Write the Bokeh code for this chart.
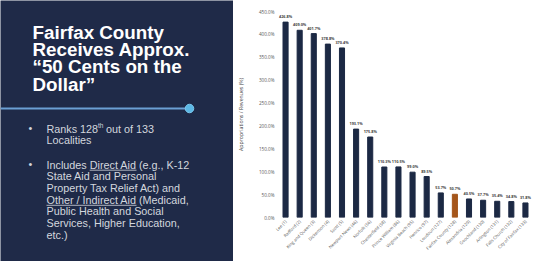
from math import pi
from bokeh.plotting import figure
from bokeh.layouts import row
from bokeh.models import (Range1d, FactorRange, FixedTicker, PrintfTickFormatter,
                          ColumnDataSource, Label, Plot)
from bokeh.core.properties import value
from bokeh.embed import file_html
from bokeh.resources import INLINE

# ---------------- data ----------------
localities = ["Lee (1)", "Radford (2)", "King and Queen (3)", "Dickenson (4)", "Scott (5)",
              "Newport News (46)", "Norfolk (56)", "Chesterfield (58)", "Prince William (86)",
              "Virginia Beach (95)", "Henrico (97)", "Loudoun (127)", "Fairfax County (128)",
              "Alexandria (129)", "Goochland (130)", "Arlington (131)", "Falls Church (132)",
              "City of Fairfax (133)"]
ratios = [426.8, 409.0, 401.7, 378.8, 370.4, 193.1, 175.8, 110.3, 110.5, 99.0, 89.5,
          53.7, 50.7, 40.5, 37.7, 35.4, 34.8, 31.8]
highlight = "Fairfax County (128)"
y_ticks = [0, 50, 100, 150, 200, 250, 300, 350, 400, 450]

title_lines = ["Fairfax County", "Receives Approx.", "\u201c50 Cents on the", "Dollar\u201d"]
bullet2_lines = ["Includes Direct Aid (e.g., K-12", "State Aid and Personal",
                 "Property Tax Relief Act) and", "Other / Indirect Aid (Medicaid,",
                 "Public Health and Social", "Services, Higher Education,", "etc.)"]

NAVY = "#1f2a48"
BAR = "#1c2944"
ORANGE = "#a5561b"
TXT = "#d3d7de"

H = 261
W_L = 233
TOP, BOTTOM = 11, 44
FRAME_BOTTOM = H - BOTTOM
HAS_FA = "frame_align" in Plot.properties()

# ---------------- left panel (data units = pixels) ----------------
if HAS_FA:
    ly = Range1d(H, 0)
    lb_top, lb_bot = 0, 0
else:
    ly = Range1d(FRAME_BOTTOM, TOP)
    lb_top, lb_bot = TOP, BOTTOM

left = figure(width=W_L, height=H, output_backend="svg", toolbar_location=None,
              x_range=Range1d(0, W_L), y_range=ly,
              x_axis_location=None, y_axis_location=None, title=None,
              min_border_left=0, min_border_right=0,
              min_border_top=lb_top, min_border_bottom=lb_bot,
              background_fill_color=NAVY, border_fill_color=NAVY)
left.grid.visible = False
left.outline_line_color = None

TF = value("Liberation Sans")
left.text(x=[32] * 4, y=[32 + 17.2 * i for i in range(4)], text=title_lines,
          text_font=TF, text_font_style="bold", text_font_size="18.8px",
          text_color="white", text_baseline="alphabetic")

left.segment(x0=[0], y0=[108], x1=[189], y1=[108], line_color="#6b9fd4", line_width=2)
left.scatter(x=[189], y=[108], size=8.5, fill_color="#5cb8e6", line_color="#7cc8ee")

FS = "10.8px"
kw = dict(text_font=TF, text_color=TXT, text_baseline="alphabetic")
left.text(x=[28, 28], y=[127.5, 163.5], text=["\u2022", "\u2022"], text_font_size=FS, **kw)
left.text(x=[46], y=[128], text=["Ranks 128"], text_font_size=FS, **kw)
left.text(x=[97.4], y=[125], text=["th"], text_font_size="6.5px", **kw)
left.text(x=[105.5], y=[128], text=["out of 133"], text_font_size=FS, **kw)
left.text(x=[46], y=[139.7], text=["Localities"], text_font_size=FS, **kw)
left.text(x=[46] * len(bullet2_lines), y=[164 + 11.7 * i for i in range(len(bullet2_lines))],
          text=bullet2_lines, text_font_size=FS, **kw)
# underlines for "Direct Aid" and "Other / Indirect Aid"
left.segment(x0=[89.2, 46], y0=[169.7, 204.8], x1=[136, 136], y1=[169.7, 204.8],
             line_color=TXT, line_width=0.8)

# ---------------- right panel: bar chart ----------------
colors = [ORANGE if n == highlight else BAR for n in localities]
labels = ["%.1f%%" % v for v in ratios]
src = ColumnDataSource(dict(x=localities, top=ratios, color=colors, label=labels))

right = figure(width=534 - W_L, height=H, output_backend="svg", toolbar_location=None,
               x_range=FactorRange(*localities, range_padding=0), y_range=Range1d(0, 450),
               title=None,
               min_border_left=45, min_border_right=2, min_border_top=TOP,
               min_border_bottom=BOTTOM,
               background_fill_color="white", border_fill_color="white")
right.outline_line_color = None
right.grid.visible = False

if HAS_FA:
    left.frame_align = False
    right.frame_align = False

right.vbar(x="x", top="top", width=0.36, color="color", source=src)
right.text(x="x", y="top", text="label", source=src, text_align="center",
           text_baseline="bottom", y_offset=-3, text_font=value("Open Sans"),
           text_font_style="bold", text_font_size="3.8px", text_color="#404040")

right.yaxis.ticker = FixedTicker(ticks=y_ticks)
right.yaxis.formatter = PrintfTickFormatter(format="%.1f%%")
right.yaxis.axis_label = "Appropriations / Revenues (%)"
for ax in (right.xaxis, right.yaxis):
    ax.axis_line_color = None
    ax.major_tick_line_color = None
    ax.minor_tick_line_color = None
    ax.major_tick_out = 0
    ax.major_tick_in = 0
    ax.minor_tick_out = 0
    ax.major_label_text_font = "Open Sans"
    ax.major_label_text_color = "#595959"
    ax.axis_label_text_font = "Open Sans"
    ax.axis_label_text_font_style = "normal"
    ax.axis_label_text_color = "#404040"
right.yaxis.major_label_text_font_size = "4.6px"
right.yaxis.major_label_standoff = 4
right.yaxis.axis_label_text_font_size = "5.2px"
right.yaxis.axis_label_standoff = 11
right.xaxis.major_label_text_font_size = "4.3px"
right.xaxis.major_label_orientation = pi / 4
right.xaxis.major_label_standoff = 3

# x-axis title placed below the rotated labels
right.add_layout(Label(x=len(localities) / 2, y=-84, text="Locality (and Rank)",
                       text_align="center", text_baseline="middle",
                       text_font="Open Sans", text_font_size="5.6px",
                       text_color="#404040"))

layout = row(left, right, spacing=0)
open("out.html", "w").write(file_html(layout, INLINE))
